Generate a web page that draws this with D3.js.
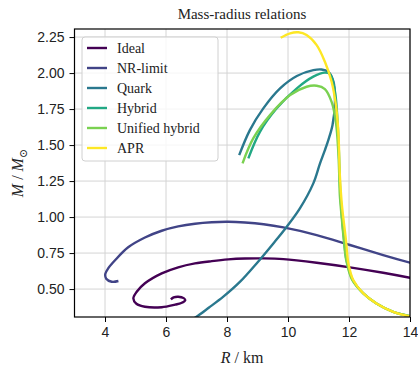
<!DOCTYPE html>
<html lang="en">
<head>
<meta charset="UTF-8">
<title>Mass-radius relations</title>
<script src="https://d3js.org/d3.v7.min.js"></script>
<style>
  html, body { margin: 0; padding: 0; background: #fff; }
  svg { display: block; font-family: "Liberation Serif", "DejaVu Serif", serif; }
  .tick text { font-size: 14px; fill: #222; }
</style>
</head>
<body>
<svg width="418" height="368"></svg>
<script>
// series names and colours (viridis, 6 steps)
var names = ["Ideal", "NR-limit", "Quark", "Hybrid", "Unified hybrid", "APR"];
var colors = ["#440154", "#414487", "#2a788e", "#22a884", "#7ad151", "#fde725"];

// radius (km) and mass (M_sun) pairs
var ideal = [[6.16,0.428],[6.25,0.442],[6.4,0.447],[6.58,0.437],[6.63,0.422],[6.5,0.403],[6.3,0.392],
  [5.86,0.374],[5.31,0.377],[5.03,0.398],[4.93,0.435],[5.04,0.481],[5.31,0.54],[5.86,0.609],[6.4,0.651],
  [6.95,0.678],[7.5,0.694],[8.04,0.706],[8.59,0.712],[9.2,0.713],[9.85,0.708],[10.94,0.683],[12.03,0.651],
  [13.12,0.613],[14.0,0.578],[14.5,0.556]];
var nrLimit = [[4.44,0.556],[4.22,0.551],[4.04,0.572],[4.01,0.605],[4.11,0.645],[4.33,0.70],[4.76,0.79],
  [5.31,0.858],[5.86,0.905],[6.4,0.935],[6.95,0.954],[7.5,0.964],[8.04,0.967],[8.59,0.962],[9.2,0.95],
  [9.85,0.928],[10.94,0.875],[12.03,0.806],[13.12,0.736],[14.0,0.683],[14.5,0.655]];
var quark = [[8.40,1.43],[8.75,1.604],[9.19,1.755],[9.74,1.894],[10.29,1.98],[10.83,2.02],[11.1,2.025],
  [11.32,2.009],[11.49,1.94],[11.54,1.80],[11.46,1.64],[11.33,1.54],[11.21,1.465],[11.05,1.373],
  [10.83,1.234],[10.39,1.06],[9.96,0.933],[9.52,0.817],[8.97,0.678],[8.43,0.551],[7.88,0.447],
  [7.4,0.37],[7.0,0.308],[6.85,0.29]];
var hybrid = [[8.70,1.408],[9.08,1.592],[9.63,1.755],[10.29,1.894],[10.83,1.975],[11.21,2.003],[11.38,1.992],
  [11.54,1.87],[11.62,1.68],[11.67,1.45],[11.71,1.2],[11.77,1.0],[11.84,0.84],[11.92,0.7],[12.12,0.565],
  [12.47,0.47],[12.9,0.40],[13.45,0.342],[14.0,0.312]];
var unified = [[8.51,1.373],[8.86,1.546],[9.41,1.708],[10.07,1.847],[10.61,1.905],[10.94,1.912],[11.21,1.889],
  [11.43,1.80],[11.57,1.66],[11.65,1.45],[11.68,1.29],[11.7,1.15],[11.76,1.0],[11.83,0.84],[11.91,0.7],
  [12.1,0.565],[12.47,0.47],[12.9,0.40],[13.45,0.342],[14.0,0.312]];
var apr = [[9.76,2.245],[10.07,2.276],[10.34,2.283],[10.61,2.264],[10.94,2.194],[11.21,2.078],[11.43,1.94],
  [11.57,1.778],[11.65,1.592],[11.7,1.29],[11.76,1.1],[11.81,1.0],[11.9,0.84],[11.98,0.678],[12.14,0.563],
  [12.47,0.47],[12.9,0.40],[13.45,0.342],[14.0,0.31]];
var series = [ideal, nrLimit, quark, hybrid, unified, apr];

var xTicks = [4, 6, 8, 10, 12, 14];
var yTicks = [0.5, 0.75, 1.0, 1.25, 1.5, 1.75, 2.0, 2.25];

var svg = d3.select("svg");
var x = d3.scaleLinear().domain([3, 14]).range([74.5, 410]);
var y = d3.scaleLinear().domain([0.306, 2.306]).range([317, 29]);

// grid
var grid = svg.append("g").attr("stroke", "#d4d4d4").attr("stroke-width", 1);
grid.selectAll(".gx").data(xTicks).enter().append("line")
  .attr("x1", function(d) { return x(d); }).attr("x2", function(d) { return x(d); })
  .attr("y1", y.range()[0]).attr("y2", y.range()[1]);
grid.selectAll(".gy").data(yTicks).enter().append("line")
  .attr("y1", function(d) { return y(d); }).attr("y2", function(d) { return y(d); })
  .attr("x1", x.range()[0]).attr("x2", x.range()[1]);

// curves, clipped to the plot area
svg.append("clipPath").attr("id", "clip").append("rect")
  .attr("x", x.range()[0]).attr("y", y.range()[1])
  .attr("width", x.range()[1] - x.range()[0]).attr("height", y.range()[0] - y.range()[1]);

var line = d3.line()
  .x(function(d) { return x(d[0]); })
  .y(function(d) { return y(d[1]); })
  .curve(d3.curveCatmullRom.alpha(0.5));

svg.append("g").attr("clip-path", "url(#clip)")
  .selectAll("path").data(series).enter().append("path")
  .attr("d", line)
  .attr("fill", "none")
  .attr("stroke", function(d, i) { return colors[i]; })
  .attr("stroke-width", 2.4)
  .attr("stroke-linecap", "butt");

// axes
svg.append("g").attr("transform", "translate(0," + y.range()[0] + ")")
  .call(d3.axisBottom(x).tickValues(xTicks).tickSize(5).tickPadding(5).tickFormat(d3.format("d")))
  .call(function(g) { g.select(".domain").remove(); });
svg.append("g").attr("transform", "translate(" + x.range()[0] + ",0)")
  .call(d3.axisLeft(y).tickValues(yTicks).tickSize(5).tickPadding(5).tickFormat(d3.format(".2f")))
  .call(function(g) { g.select(".domain").remove(); });
svg.selectAll(".tick line").attr("stroke", "#000").attr("stroke-width", 1);

svg.append("rect")
  .attr("x", x.range()[0]).attr("y", y.range()[1])
  .attr("width", x.range()[1] - x.range()[0]).attr("height", y.range()[0] - y.range()[1])
  .attr("fill", "none").attr("stroke", "#000").attr("stroke-width", 1.2);

// legend
var lg = svg.append("g").attr("transform", "translate(82,37)");
lg.append("rect").attr("width", 136).attr("height", 124).attr("rx", 3)
  .attr("fill", "rgba(255,255,255,0.8)").attr("stroke", "#d0d0d0");
names.forEach(function(n, i) {
  var yy = 11 + i * 20;
  lg.append("line").attr("x1", 5).attr("x2", 25).attr("y1", yy).attr("y2", yy)
    .attr("stroke", colors[i]).attr("stroke-width", 2.4);
  lg.append("text").attr("x", 35).attr("y", yy + 4.5).attr("font-size", 14).attr("fill", "#222").text(n);
});

// titles
svg.append("text").attr("x", 242).attr("y", 19).attr("text-anchor", "middle")
  .attr("font-size", 15).attr("fill", "#222").text("Mass-radius relations");

var xl = svg.append("text").attr("x", 242).attr("y", 363).attr("text-anchor", "middle")
  .attr("font-size", 16).attr("fill", "#222");
xl.append("tspan").attr("font-style", "italic").text("R");
xl.append("tspan").text(" / km");

var yl = svg.append("text").attr("transform", "translate(23,173) rotate(-90)")
  .attr("text-anchor", "middle").attr("font-size", 16).attr("fill", "#222");
yl.append("tspan").attr("font-style", "italic").text("M");
yl.append("tspan").text(" / ");
yl.append("tspan").attr("font-style", "italic").text("M");
yl.append("tspan").attr("font-size", 11).attr("dy", 4).text("⊙");
</script>
</body>
</html>
